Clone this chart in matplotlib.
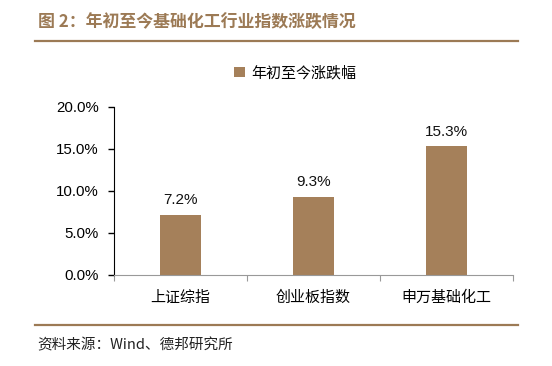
import matplotlib
matplotlib.use("Agg")
import matplotlib.pyplot as plt
from matplotlib.lines import Line2D

plt.rcParams['font.family'] = ['Liberation Sans', 'Noto Sans CJK SC', 'DejaVu Sans']

# 数据
categories = ["上证综指", "创业板指数", "申万基础化工"]
values = [7.2, 9.3, 15.3]
series_name = "年初至今涨跌幅"
yticks = [0, 5, 10, 15, 20]

bar_color = "#A5805A"
brown = "#9C7A55"
cjk = ['Noto Sans CJK SC', 'DejaVu Sans']

W, H = 552, 366
fig = plt.figure(figsize=(W / 100, H / 100), dpi=100)

# 标题和分隔线
fig.text(38 / W, 1 - 22 / H, "图 2：年初至今基础化工行业指数涨跌情况", ha="left", va="center",
         fontsize=12.2, fontweight="bold", color=brown, family=cjk)
fig.add_artist(Line2D([35 / W, 518 / W], [1 - 41 / H, 1 - 41 / H], color=brown, linewidth=1.6))
fig.add_artist(Line2D([35 / W, 518 / W], [1 - 325 / H, 1 - 325 / H], color=brown, linewidth=1.6))
fig.text(37 / W, 1 - 345 / H, "资料来源：Wind、德邦研究所", ha="left", va="center",
         fontsize=10.5, color="#222222", family=['Noto Sans CJK SC', 'DejaVu Sans'])

ax = fig.add_axes([114 / W, 1 - 275 / H, (513 - 114) / W, (275 - 107) / H])
x = list(range(len(categories)))
bars = ax.bar(x, values, width=0.31, color=bar_color, label=series_name)
for xi, v in zip(x, values):
    ax.text(xi, v + 0.9, f"{v:.1f}%", ha="center", va="bottom", fontsize=11, color="#111111")

ax.set_xlim(-0.5, len(categories) - 0.5)
ax.set_ylim(0, 20)
ax.set_yticks(yticks)
ax.set_yticklabels([f"{t:.1f}%" for t in yticks], fontsize=10.8)
ax.tick_params(axis="y", length=4, width=1, direction="out", pad=7)

ax.set_xticks([i - 0.5 for i in range(len(categories) + 1)])
ax.set_xticklabels([])
ax.tick_params(axis="x", which="major", length=4, color="#999999", direction="out")
ax.set_xticks(x, minor=True)
ax.set_xticklabels(categories, minor=True, fontsize=10.8, family=cjk)
ax.tick_params(axis="x", which="minor", length=0, pad=11)

for s in ["top", "right"]:
    ax.spines[s].set_visible(False)
ax.spines["left"].set_color("black")
ax.spines["bottom"].set_color("#999999")

fig.legend(handles=[bars], labels=[series_name], loc="center",
           bbox_to_anchor=(295 / W, 1 - 73 / H), frameon=False,
           handlelength=0.7, handleheight=0.7, handletextpad=0.4,
           prop={"family": cjk, "size": 10.8})

plt.savefig("out.png", dpi=100, facecolor="white")
